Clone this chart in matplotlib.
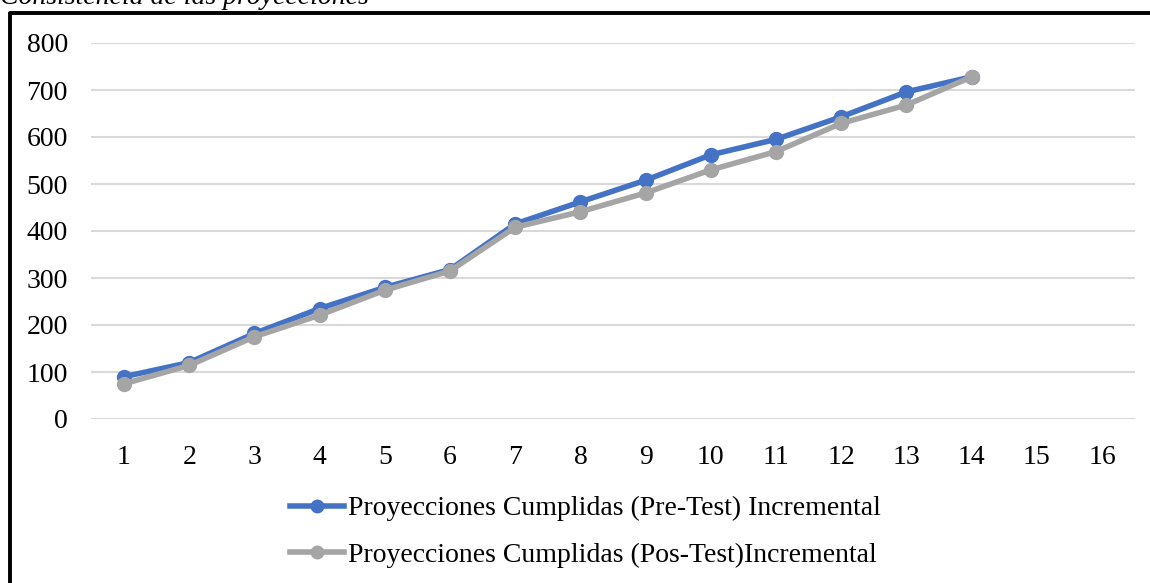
import matplotlib.pyplot as plt
from matplotlib.lines import Line2D

plt.rcParams['font.family'] = ['Liberation Serif', 'DejaVu Serif']

# Datos
periodos = list(range(1, 17))
pre_test = [90, 120, 182, 235, 280, 318, 415, 462, 508, 562, 595, 643, 696, 728]
pos_test = [75, 114, 175, 221, 274, 315, 408, 441, 481, 530, 569, 629, 668, 728]
titulo = 'Consistencia de las proyecciones'
etiqueta_pre = 'Proyecciones Cumplidas (Pre-Test) Incremental'
etiqueta_pos = 'Proyecciones Cumplidas (Pos-Test)Incremental'

azul = '#4472C4'
gris = '#A5A5A5'

W, H = 1150, 583
fig = plt.figure(figsize=(W / 100, H / 100), dpi=100)
ax = fig.add_axes([91.4 / W, (H - 419) / H, (1134.6 - 91.4) / W, 376 / H])

x_pre = periodos[:len(pre_test)]
x_pos = periodos[:len(pos_test)]
ax.plot(x_pre, pre_test, color=azul, lw=4, marker='o', ms=10, label=etiqueta_pre, zorder=3)
ax.plot(x_pos, pos_test, color=gris, lw=4, marker='o', ms=10, label=etiqueta_pos, zorder=4)

ax.set_xlim(0.5, 16.5)
ax.set_ylim(0, 800)
ax.set_xticks(periodos)
ax.set_yticks(range(0, 801, 100))
ax.grid(axis='y', color='#D9D9D9', lw=1.5, zorder=0)
ax.set_axisbelow(True)
for s in ax.spines.values():
    s.set_visible(False)
ax.tick_params(length=0, labelsize=20)
ax.tick_params(axis='y', pad=17)
ax.tick_params(axis='x', pad=19)

fig.legend(loc='upper left', bbox_to_anchor=(290 / W, 1 - 496 / H), frameon=False,
           fontsize=20, handlelength=1.95, handletextpad=0.12, labelspacing=0.75,
           borderpad=0, borderaxespad=0, markerscale=0.9)

# título recortado arriba
fig.text(0.0, 1 - 4 / H, titulo, style='italic', fontsize=20, va='baseline', ha='left')

# borde del recuadro
fig.add_artist(Line2D([9.5 / W, 9.5 / W, 1.0], [0, 1 - 13 / H, 1 - 13 / H],
                      color='black', lw=2.8, transform=fig.transFigure))

fig.savefig('out.png', dpi=100)
